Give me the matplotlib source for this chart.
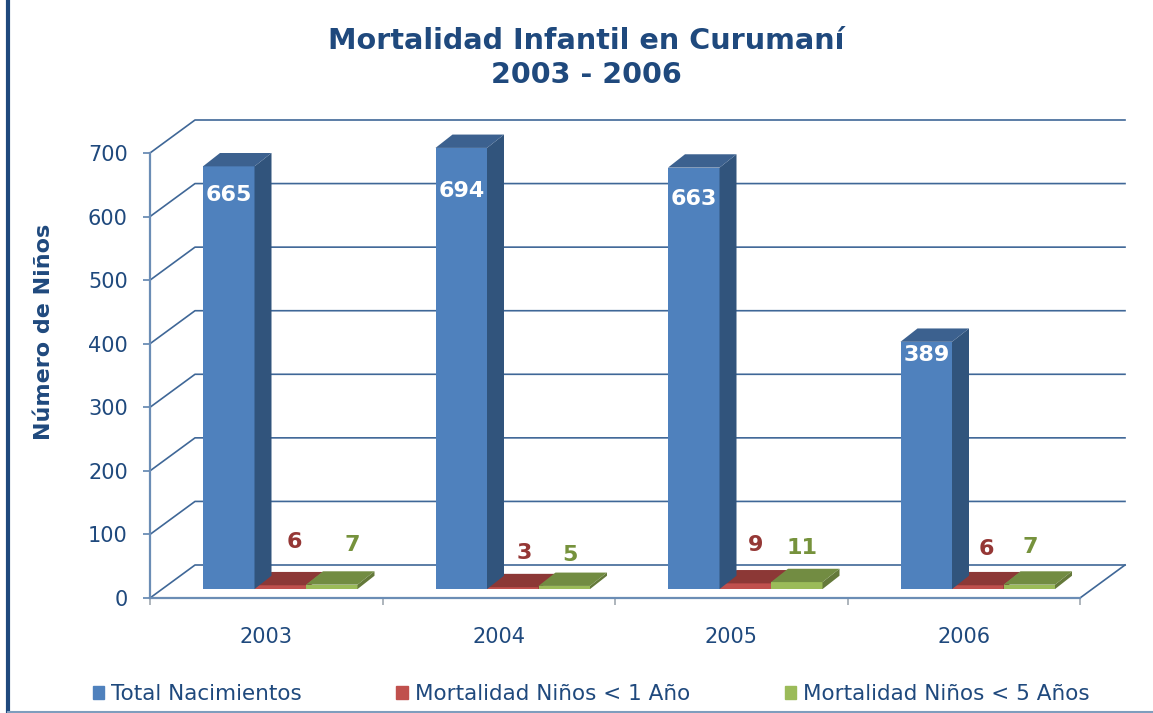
import matplotlib
matplotlib.use("Agg")
import matplotlib.pyplot as plt
from matplotlib.lines import Line2D
from matplotlib.patches import Patch
import numpy as np

years = ["2003", "2004", "2005", "2006"]
y_ticks = [0, 100, 200, 300, 400, 500, 600, 700]
total_nacimientos = [665, 694, 663, 389]
mortalidad_1 = [6, 3, 9, 6]
mortalidad_5 = [7, 5, 11, 7]
series_names = ["Total Nacimientos", "Mortalidad Niños < 1 Año", "Mortalidad Niños < 5 Años"]

W, H = 1153, 713
NAVY = "#1F497D"
GRID = "#3F6797"
SPINE = "#6B8DB5"

# px -> units of the front plane
PX_X = 1 / 232.5
PX_Y = 700 / 445

fig = plt.figure(figsize=(W / 100, H / 100), dpi=100)
ax = fig.add_axes([150 / W, 1 - 598 / H, 930 / W, 445 / H])
ax.set_xlim(0, 4)
ax.set_ylim(0, 700)
ax.patch.set_alpha(0)

# --- wall and floor lines ---
wall_dx, wall_dy = 45 * PX_X, 33 * PX_Y
for val in y_ticks:
    ax.plot([0, wall_dx, 4 + wall_dx], [val, val + wall_dy, val + wall_dy],
            color=GRID, lw=1.2, clip_on=False, zorder=1)
ax.plot([4, 4 + wall_dx], [0, wall_dy], color=GRID, lw=1.2, clip_on=False, zorder=1)


def draw_bar(left, value, colors, zorder):
    """Front, side and top faces of one pseudo 3D bar."""
    width = 51.5 * PX_X
    base = 14
    dx, dy = 17 * PX_X, 21
    front, side, top = colors
    ax.fill([left, left + width, left + width, left],
            [base, base, base + value, base + value],
            color=front, lw=0, clip_on=False, zorder=zorder)
    ax.fill([left + width, left + width + dx, left + width + dx, left + width],
            [base, base + dy, base + value + dy, base + value],
            color=side, lw=0, clip_on=False, zorder=zorder)
    ax.fill([left, left + dx, left + width + dx, left + width],
            [base + value, base + value + dy, base + value + dy, base + value],
            color=top, lw=0, clip_on=False, zorder=zorder)
    return left + width / 2, base + value


blue = ("#4F81BD", "#31547C", "#3C618F")
red = ("#C0504D", "#7E3230", "#8C3836")
green = ("#9BBB59", "#64793A", "#728C42")

# label offsets in px from the top centre of each bar's front face
blue_off = [(0, -29), (0, -43), (0, -31), (0, -13)]
red_off = [(14, 43), (11, 34), (10, 38), (9, 36)]
green_off = [(20, 40), (6, 31), (5, 34), (1, 38)]

for i in range(len(years)):
    x0 = i + 53 * PX_X
    bw = 51.5 * PX_X
    cx, top = draw_bar(x0, total_nacimientos[i], blue, 5)
    ax.annotate(str(total_nacimientos[i]), (cx, top), xytext=blue_off[i],
                textcoords="offset pixels", ha="center", va="center",
                color="white", fontsize=16, fontweight="bold", zorder=9,
                annotation_clip=False)
    cx, top = draw_bar(x0 + bw, mortalidad_1[i], red, 3)
    ax.annotate(str(mortalidad_1[i]), (cx, top), xytext=red_off[i],
                textcoords="offset pixels", ha="center", va="center",
                color="#953735", fontsize=16, fontweight="bold", zorder=9,
                annotation_clip=False)
    cx, top = draw_bar(x0 + 2 * bw, mortalidad_5[i], green, 4)
    ax.annotate(str(mortalidad_5[i]), (cx, top), xytext=green_off[i],
                textcoords="offset pixels", ha="center", va="center",
                color="#76923C", fontsize=16, fontweight="bold", zorder=9,
                annotation_clip=False)

# --- axes ---
for side in ["top", "right"]:
    ax.spines[side].set_visible(False)
for side in ["left", "bottom"]:
    ax.spines[side].set_color(SPINE)
    ax.spines[side].set_linewidth(1.6)
ax.set_yticks(y_ticks)
ax.set_xticks(range(5))
ax.set_xticklabels([])
ax.set_xticks(np.arange(len(years)) + 0.5, labels=years, minor=True)
ax.tick_params(axis="x", which="major", length=5, width=1.2, color="#A0A8B0")
ax.tick_params(axis="x", which="minor", length=0, pad=21, labelsize=15, labelcolor=NAVY)
ax.tick_params(axis="y", length=5, width=1.3, color=SPINE, pad=11, labelsize=15, labelcolor=NAVY)

fig.text(44 / W, 1 - 332 / H, "Número de Niños", rotation=90, ha="center", va="center",
         color=NAVY, fontsize=16, fontweight="bold")
fig.text(586 / W, 1 - 58 / H, "Mortalidad Infantil en Curumaní\n2003 - 2006",
         ha="center", va="center", color=NAVY, fontsize=20.6, fontweight="bold",
         linespacing=1.23)

# --- legend ---
handles = [Patch(color=blue[0]), Patch(color=red[0]), Patch(color=green[0])]
fig.legend(handles, series_names, ncol=3, frameon=False, loc="center",
           bbox_to_anchor=(591 / W, 1 - 694 / H), fontsize=15.5, labelcolor=NAVY,
           handlelength=0.55, handleheight=0.55, handletextpad=0.3, columnspacing=4.4)

# --- picture frame ---
fig.add_artist(Line2D([8 / W, 8 / W], [0, 1], color="#1F497D", lw=3))
fig.add_artist(Line2D([8 / W, 1], [1.5 / H, 1.5 / H], color="#7F9DBD", lw=1.5))

fig.savefig("out.png", dpi=100)
